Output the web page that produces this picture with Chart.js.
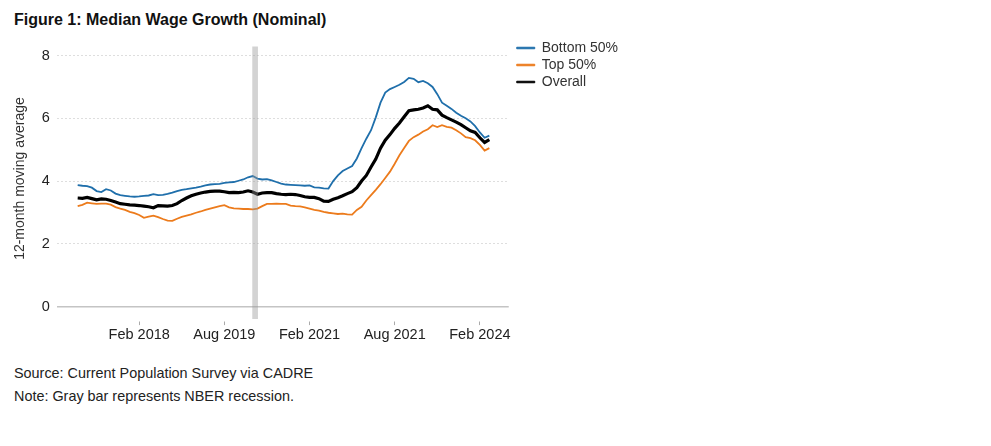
<!DOCTYPE html>
<html>
<head>
<meta charset="utf-8">
<script src="https://cdn.jsdelivr.net/npm/chart.js@4.4.1/dist/chart.umd.min.js"></script>
<style>
  body { margin: 0; background: #fff; font-family: "Liberation Sans", Arial, sans-serif; }
  .title { position: absolute; left: 14px; top: 11px; font-size: 16px; font-weight: bold; color: #111; }
  .wrap { position: absolute; left: 0; top: 0; width: 634px; height: 350px; }
  .note { position: absolute; left: 14px; font-size: 14.4px; color: #222; }
</style>
</head>
<body>
<div class="title">Figure 1: Median Wage Growth (Nominal)</div>
<div class="wrap"><canvas id="wageChart"></canvas></div>
<div class="note" style="top:365px">Source: Current Population Survey via CADRE</div>
<div class="note" style="top:388px">Note: Gray bar represents NBER recession.</div>
<script>
// monthly, Jan 2017 .. Apr 2024
const startYear = 2017;
const monthNames = ['Jan','Feb','Mar','Apr','May','Jun','Jul','Aug','Sep','Oct','Nov','Dec'];

const bottom50 = [3.87,3.85,3.84,3.79,3.68,3.65,3.74,3.70,3.60,3.55,3.53,3.51,
  3.50,3.51,3.53,3.54,3.58,3.55,3.56,3.59,3.63,3.68,3.72,3.74,
  3.77,3.79,3.82,3.86,3.89,3.90,3.91,3.94,3.96,3.97,4.01,4.05,
  4.12,4.16,4.08,4.05,4.06,4.02,3.97,3.92,3.89,3.88,3.87,3.86,
  3.85,3.86,3.80,3.79,3.77,3.76,4.00,4.18,4.32,4.40,4.48,4.72,
  5.05,5.35,5.62,6.03,6.50,6.82,6.93,7.00,7.07,7.16,7.29,7.26,
  7.15,7.19,7.12,7.00,6.77,6.50,6.40,6.30,6.18,6.08,6.00,5.90,
  5.75,5.55,5.38,5.45];

const top50 = [3.20,3.24,3.31,3.29,3.27,3.28,3.28,3.25,3.17,3.12,3.08,3.02,
  2.98,2.92,2.83,2.87,2.90,2.85,2.79,2.74,2.73,2.80,2.86,2.90,
  2.94,2.99,3.03,3.08,3.12,3.16,3.20,3.23,3.16,3.13,3.12,3.11,
  3.11,3.10,3.12,3.20,3.27,3.27,3.28,3.27,3.27,3.22,3.20,3.19,
  3.16,3.12,3.08,3.06,3.02,2.99,2.97,2.95,2.96,2.94,2.93,3.08,
  3.18,3.38,3.55,3.72,3.90,4.10,4.30,4.55,4.82,5.05,5.28,5.40,
  5.48,5.58,5.65,5.78,5.72,5.78,5.73,5.70,5.62,5.52,5.40,5.37,
  5.30,5.15,4.97,5.05];

const overall = [3.46,3.45,3.48,3.44,3.40,3.43,3.42,3.38,3.33,3.28,3.26,3.24,
  3.23,3.22,3.20,3.18,3.15,3.22,3.21,3.20,3.22,3.28,3.38,3.46,
  3.53,3.58,3.62,3.65,3.67,3.68,3.68,3.66,3.63,3.64,3.63,3.65,
  3.69,3.65,3.58,3.62,3.63,3.63,3.60,3.58,3.57,3.58,3.57,3.54,
  3.50,3.48,3.48,3.44,3.36,3.35,3.42,3.47,3.53,3.60,3.66,3.79,
  4.00,4.18,4.45,4.70,5.05,5.30,5.48,5.68,5.85,6.05,6.24,6.27,
  6.29,6.33,6.40,6.29,6.27,6.10,6.02,5.95,5.88,5.80,5.70,5.60,
  5.55,5.38,5.23,5.32];

// x-axis labels as printed on the figure, and the months they sit on
const tickMonths = ['Feb 2018','Aug 2019','Feb 2021','Aug 2022','Feb 2024'];
const tickLabels = ['Feb 2018','Aug 2019','Feb 2021','Aug 2021','Feb 2024'];
const recessionMonths = ['Feb 2020','Mar 2020'];
const recessionRange = [-0.4, 8.28];
const yTicks = [0, 2, 4, 6, 8];
const yMin = -0.4, yMax = 8.56;

const months = bottom50.map((v, i) => monthNames[i % 12] + ' ' + (startYear + Math.floor(i / 12)));
const toPoints = arr => arr.map((v, i) => ({ x: i, y: v }));
const tickIdx = tickMonths.map(m => months.indexOf(m));
const recIdx = recessionMonths.map(m => months.indexOf(m));
const recCenter = (recIdx[0] + recIdx[1]) / 2;

const isZero = c => c.tick && c.tick.value === 0;

const ctx = document.getElementById('wageChart').getContext('2d');
new Chart(ctx, {
  data: {
    datasets: [
      { type: 'line', label: 'Bottom 50%', data: toPoints(bottom50), borderColor: '#1f6fab', backgroundColor: '#1f6fab', borderWidth: 1.8, pointRadius: 0, tension: 0, order: 2 },
      { type: 'line', label: 'Top 50%', data: toPoints(top50), borderColor: '#ec7b1c', backgroundColor: '#ec7b1c', borderWidth: 1.8, pointRadius: 0, tension: 0, order: 3 },
      { type: 'line', label: 'Overall', data: toPoints(overall), borderColor: '#000', backgroundColor: '#000', borderWidth: 3.2, pointRadius: 0, tension: 0, order: 1 },
      { type: 'bar', label: 'recession', data: [{ x: recCenter, y: recessionRange }], backgroundColor: 'rgba(150,150,150,0.42)', barThickness: 5, order: 0 }
    ]
  },
  options: {
    responsive: true,
    maintainAspectRatio: false,
    animation: false,
    layout: { padding: { top: 38, left: 12, right: 6, bottom: 5.5 } },
    plugins: {
      tooltip: { enabled: false },
      legend: {
        position: 'right',
        align: 'start',
        labels: {
          boxWidth: 18,
          boxHeight: 1.5,
          padding: 3,
          color: '#333',
          font: { family: 'Liberation Sans', size: 14 },
          sort: (a, b) => a.datasetIndex - b.datasetIndex,
          generateLabels: chart => Chart.defaults.plugins.legend.labels.generateLabels(chart)
            .filter(l => l.datasetIndex < 3)
            .map(l => Object.assign(l, { lineWidth: 1 }))
        }
      }
    },
    scales: {
      x: {
        type: 'linear',
        min: -4.4,
        max: 91.1,
        offset: false,
        afterBuildTicks: scale => { scale.ticks = tickIdx.map(v => ({ value: v })); },
        ticks: {
          padding: 1,
          color: '#222',
          font: { family: 'Liberation Sans', size: 14.5 },
          maxRotation: 0,
          autoSkip: false,
          callback: v => tickLabels[tickIdx.indexOf(v)]
        },
        grid: { offset: false, drawOnChartArea: false, tickLength: 6, tickColor: '#aaa', tickWidth: 1, tickBorderDash: [0, 2.5, 4, 20] },
        border: { display: false }
      },
      y: {
        min: yMin,
        max: yMax,
        afterBuildTicks: scale => { scale.ticks = yTicks.map(v => ({ value: v })); },
        ticks: {
          padding: 0,
          color: '#222',
          font: { family: 'Liberation Sans', size: 14.5 }
        },
        grid: {
          color: c => isZero(c) ? '#c4c4c4' : '#dedede',
          lineWidth: c => isZero(c) ? 1.5 : 1,
          tickLength: 7,
          tickColor: 'rgba(0,0,0,0)'
        },
        border: { display: false, dash: c => isZero(c) ? [] : [2, 2] },
        title: {
          display: true,
          text: '12-month moving average',
          color: '#333',
          font: { family: 'Liberation Sans', size: 14 },
          padding: { top: 0, bottom: 13 }
        }
      },
      // hidden spacer between plot and legend
      // (display:false so it doesn't count toward the legend's max width)
      y2: {
        position: 'right',
        display: false,
        afterFit: scale => { scale.width = 5; }
      }
    }
  }
});
</script>
</body>
</html>
